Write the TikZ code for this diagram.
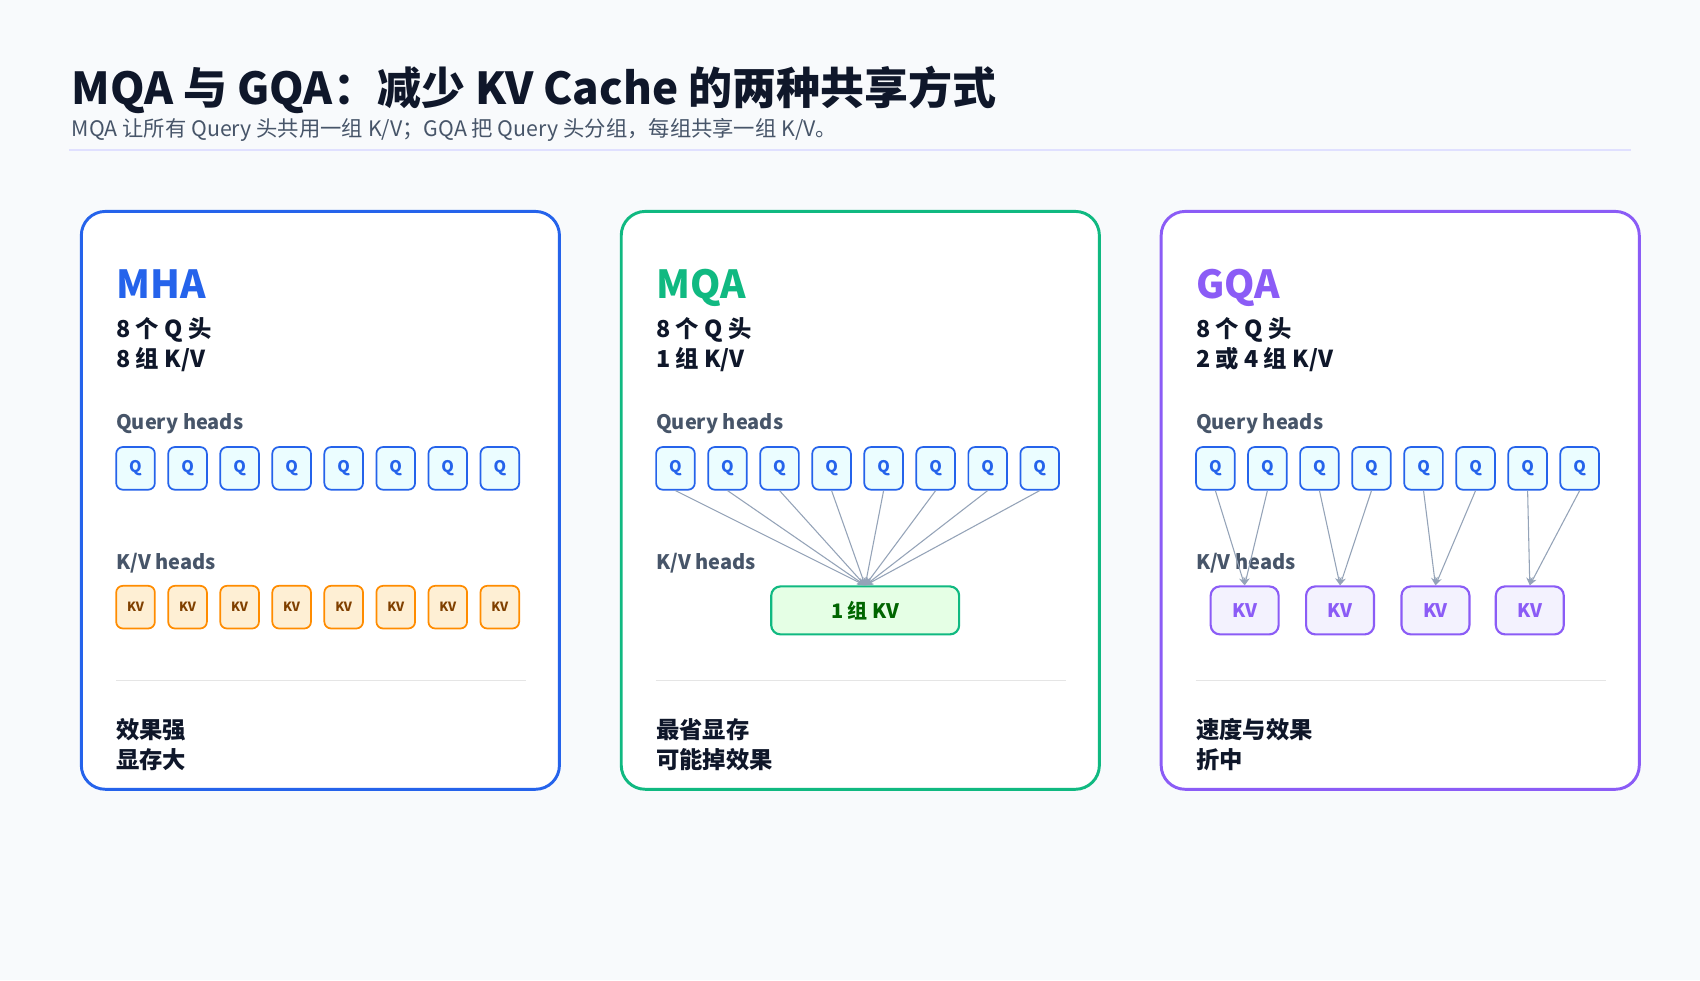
\documentclass[tikz,border=0pt]{standalone}
\usepackage{fontspec}
\setmainfont{Noto Sans CJK SC}
\usetikzlibrary{arrows.meta}
\definecolor{bg}{HTML}{F8FAFC}
\definecolor{ink}{HTML}{0F172A}
\definecolor{sub}{HTML}{475569}
\definecolor{blu}{HTML}{2563EB}
\definecolor{grn}{HTML}{10B981}
\definecolor{pur}{HTML}{8B5CF6}
\definecolor{arr}{HTML}{94A3B8}
\begin{document}
\begin{tikzpicture}[x=0.8132pt,y=-0.8132pt,
  panel/.style={draw=#1,line width=2.2pt,rounded corners=18pt,fill=white},
  qbox/.style={draw=blu,fill=blue!8!cyan!8,line width=1.3pt,rounded corners=5pt,minimum width=29pt,minimum height=32pt,inner sep=0pt,font=\bfseries\fontsize{12}{12}\selectfont,text=blu},
  kvbox/.style={draw=orange!90!yellow,fill=yellow!25!orange!15,line width=1.3pt,rounded corners=5pt,minimum width=29pt,minimum height=32pt,inner sep=0pt,font=\bfseries\fontsize{9.5}{10}\selectfont,text=orange!50!black},
  head/.style={anchor=base west,font=\bfseries\fontsize{29}{30}\selectfont},
  info/.style={anchor=base west,font=\bfseries\fontsize{17.5}{18}\selectfont,text=ink,align=left},
  lab/.style={anchor=base west,font=\bfseries\fontsize{15}{16}\selectfont,text=sub},
  link/.style={draw=arr,line width=0.8pt,-{Stealth[length=6pt,width=5pt]}}]
\fill[bg] (0,0) rectangle (1568,904);
\node[anchor=base west,inner sep=0,font=\bfseries\fontsize{33}{34}\selectfont,text=ink] (title) at (66,96) {MQA 与 GQA：减少 KV Cache 的两种共享方式};
\node[anchor=base west,inner sep=0,font=\fontsize{16}{17}\selectfont,text=sub] (subt) at (66,126) {MQA 让所有 Query 头共用一组 K/V；GQA 把 Query 头分组，每组共享一组 K/V。};
\draw[blue!12,line width=1.6pt] (64,138) -- (1504,138);
% panels
\foreach \x/\c/\n in {75/blu/p1,573/grn/p2,1071/pur/p3}{
  \draw[panel=\c] (\x,195) rectangle (\x+441,728);
  \draw[black!10,line width=0.8pt] (\x+32,628) -- (\x+410,628);
  \node[lab,inner sep=0] at (\x+32,396) {Query heads};
  \node[lab,inner sep=0] at (\x+32,525) {K/V heads};
  \foreach \i in {0,...,7}{
    \node[qbox] (\n q\i) at (\x+50+\i*48,432) {Q};
  }
}
\node[head,inner sep=0,text=blu] (h1) at (107,275) {MHA};
\node[head,inner sep=0,text=grn] (h2) at (605,275) {MQA};
\node[head,inner sep=0,text=pur] (h3) at (1103,275) {GQA};
\node[info,inner sep=0] (i1) at (107,311) {8 个 Q 头};
\node[info,inner sep=0] (j1) at (107,339) {8 组 K/V};
\node[info,inner sep=0] (i2) at (605,311) {8 个 Q 头};
\node[info,inner sep=0] (j2) at (605,339) {1 组 K/V};
\node[info,inner sep=0] (i3) at (1103,311) {8 个 Q 头};
\node[info,inner sep=0] (j3) at (1103,339) {2 或 4 组 K/V};
\node[info,inner sep=0] (b1) at (107,681) {效果强};
\node[info,inner sep=0] (c1) at (107,709) {显存大};
\node[info,inner sep=0] (b2) at (605,681) {最省显存};
\node[info,inner sep=0] (c2) at (605,709) {可能掉效果};
\node[info,inner sep=0] (b3) at (1103,681) {速度与效果};
\node[info,inner sep=0] (c3) at (1103,709) {折中};
% MHA kv
\foreach \i in {0,...,7}{\node[kvbox] (kv\i) at (125+\i*48,560) {KV};}
% MQA
\node[draw=grn,fill=green!10,line width=1.6pt,rounded corners=7pt,minimum width=141pt,minimum height=36pt,inner sep=0pt,font=\bfseries\fontsize{15}{16}\selectfont,text=green!40!black] (one) at (798,563) {1 组 KV};
\coordinate (onetop) at (798,540);
\foreach \i in {0,...,7}{\draw[link] (p2q\i.south) -- (onetop);}
% GQA
\foreach \k/\cx in {0/1148,1/1236,2/1324,3/1411}{
  \node[draw=pur,fill=purple!6!blue!5,line width=1.6pt,rounded corners=7pt,minimum width=51pt,minimum height=36pt,inner sep=0pt,font=\bfseries\fontsize{14}{15}\selectfont,text=pur] (g\k) at (\cx,563) {KV};
}
\foreach \i/\k in {0/0,1/0,2/1,3/1,4/2,5/2,6/3,7/3}{\draw[link] (p3q\i.south) -- (g\k.north);}
\end{tikzpicture}
\end{document}
